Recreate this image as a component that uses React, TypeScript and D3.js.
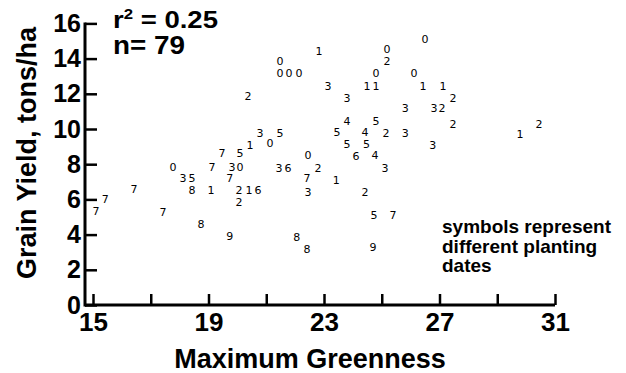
import { useEffect, useRef } from "react";
import * as d3 from "d3";

// maximum greenness (x), grain yield in tons/ha (y), planting date symbol
const greenness = [
  26.5, 22.83, 25.18, 25.18, 21.48, 21.48, 21.79, 22.13, 24.8, 26.12,
  23.14, 24.49, 24.8, 26.43, 27.12, 23.8, 27.47, 20.37, 25.81, 26.81,
  27.09, 23.8, 24.8, 27.47, 30.45, 29.79, 20.78, 21.48, 20.44, 21.13,
  23.45, 24.42, 25.15, 25.81, 26.77, 23.8, 24.47, 22.45, 24.11, 24.77,
  21.44, 21.75, 22.79, 25.11, 22.41, 23.42, 20.4, 20.71, 22.45, 24.42,
  24.73, 25.39, 22.06, 22.41, 24.7, 19.47, 20.09, 17.77, 19.12, 19.81,
  20.09, 18.12, 18.43, 19.74, 18.43, 19.09, 20.06, 20.06, 16.42, 15.42,
  15.1, 17.42, 18.74, 19.74,
];
const grainYield = [
  15.11, 14.43, 14.49, 13.81, 13.86, 13.18, 13.18, 13.18, 13.18, 13.18,
  12.44, 12.39, 12.39, 12.39, 12.39, 11.76, 11.76, 11.82, 11.19, 11.14,
  11.14, 10.45, 10.4, 10.28, 10.28, 9.66, 9.77, 9.77, 9.09, 9.15,
  9.8, 9.82, 9.77, 9.77, 9.09, 9.12, 9.1, 8.47, 8.41, 8.47,
  7.78, 7.78, 7.78, 7.78, 7.16, 7.05, 6.48, 6.48, 6.42, 6.42,
  5.11, 5.11, 3.86, 3.18, 3.24, 8.58, 8.58, 7.84, 7.84, 7.84,
  7.84, 7.16, 7.16, 7.16, 6.48, 6.48, 6.48, 5.8, 6.59, 6.02,
  5.34, 5.23, 4.55, 3.92,
];
const plantingDate = [
  "0", "1", "0", "2", "0", "0", "0", "0", "0", "0",
  "3", "1", "1", "1", "1", "3", "2", "2", "3", "3",
  "2", "4", "5", "2", "2", "1", "3", "5", "1", "0",
  "5", "4", "2", "3", "3", "5", "5", "0", "6", "4",
  "3", "6", "2", "3", "7", "1", "1", "6", "3", "2",
  "5", "7", "8", "8", "9", "7", "5", "0", "7", "3",
  "0", "3", "5", "7", "8", "1", "2", "2", "7", "7",
  "7", "7", "8", "9",
];

const yTicks = [0, 2, 4, 6, 8, 10, 12, 14, 16];
const xTicks = [15, 17, 19, 21, 23, 25, 27, 29, 31];
const xTickLabels = ["15", "", "19", "", "23", "", "27", "", "31"];
const noteLines = ["symbols represent", "different planting", "dates"];

const font = "'Liberation Sans', Arial, Helvetica, sans-serif";

export default function App() {
  const ref = useRef<SVGSVGElement>(null);

  useEffect(() => {
    const svg = d3.select(ref.current);
    svg.selectAll("*").remove();

    const x = d3.scaleLinear().domain([15, 31]).range([93, 555]);
    const y = d3.scaleLinear().domain([0, 16]).range([305, 23.4]);
    const axisLeftX = x(15) - 8;

    // y axis
    const gy = svg.append("g")
      .attr("transform", `translate(${axisLeftX},0)`)
      .call(d3.axisLeft(y).tickValues(yTicks).tickSizeInner(-12).tickSizeOuter(0).tickPadding(4).tickFormat(d3.format("d")));
    gy.select(".domain").remove();
    gy.selectAll(".tick line").attr("stroke", "#000").attr("stroke-width", 2.5);
    gy.selectAll(".tick text")
      .attr("fill", "#000")
      .style("font-family", font)
      .style("font-weight", "bold")
      .style("font-size", "25px");

    // x axis
    const gx = svg.append("g")
      .attr("transform", `translate(0,${y(0)})`)
      .call(d3.axisBottom(x).tickValues(xTicks).tickSizeInner(-11).tickSizeOuter(0).tickPadding(8)
        .tickFormat((d, i) => xTickLabels[i]));
    gx.select(".domain").remove();
    gx.selectAll(".tick line").attr("stroke", "#000").attr("stroke-width", 2.5);
    gx.selectAll(".tick text")
      .attr("fill", "#000")
      .style("font-family", font)
      .style("font-weight", "bold")
      .style("font-size", "26px");

    // axis lines
    svg.append("line")
      .attr("x1", axisLeftX).attr("x2", axisLeftX)
      .attr("y1", y(0) + 1.5).attr("y2", y(16) - 1)
      .attr("stroke", "#000").attr("stroke-width", 3);
    svg.append("line")
      .attr("x1", axisLeftX).attr("x2", x(31))
      .attr("y1", y(0)).attr("y2", y(0))
      .attr("stroke", "#000").attr("stroke-width", 3);

    // points drawn as planting date digits
    svg.append("g")
      .selectAll("text")
      .data(greenness)
      .join("text")
      .attr("x", (d) => x(d))
      .attr("y", (d, i) => y(grainYield[i]))
      .attr("text-anchor", "middle")
      .attr("dominant-baseline", "central")
      .attr("fill", "#000")
      .style("font-family", "'DejaVu Sans', sans-serif")
      .style("font-size", "11px")
      .text((d, i) => plantingDate[i]);

    // axis titles
    svg.append("text")
      .attr("x", 310).attr("y", 368)
      .attr("text-anchor", "middle")
      .style("font-family", font).style("font-weight", "bold").style("font-size", "27px")
      .text("Maximum Greenness");
    svg.append("text")
      .attr("transform", "translate(36,153) rotate(-90)")
      .attr("text-anchor", "middle")
      .style("font-family", font).style("font-weight", "bold").style("font-size", "27px")
      .text("Grain Yield, tons/ha");

    // stats
    const r2 = svg.append("text")
      .attr("x", 113).attr("y", 28)
      .attr("textLength", 105).attr("lengthAdjust", "spacingAndGlyphs")
      .style("font-family", font).style("font-weight", "bold").style("font-size", "23px");
    r2.append("tspan").text("r");
    r2.append("tspan").attr("dy", -9).style("font-size", "14px").text("2");
    r2.append("tspan").attr("dy", 9).text(" = 0.25");
    svg.append("text")
      .attr("x", 113).attr("y", 54)
      .attr("textLength", 72).attr("lengthAdjust", "spacingAndGlyphs")
      .style("font-family", font).style("font-weight", "bold").style("font-size", "25px")
      .text("n= 79");

    // note
    svg.append("g")
      .selectAll("text")
      .data(noteLines)
      .join("text")
      .attr("x", 442)
      .attr("y", (d, i) => 233 + i * 19.5)
      .style("font-family", font).style("font-weight", "bold").style("font-size", "19px")
      .text((d) => d);
  }, []);

  return (
    <svg
      ref={ref}
      width={626}
      height={373}
      style={{ position: "absolute", left: 0, top: 0, background: "#fff" }}
    />
  );
}
